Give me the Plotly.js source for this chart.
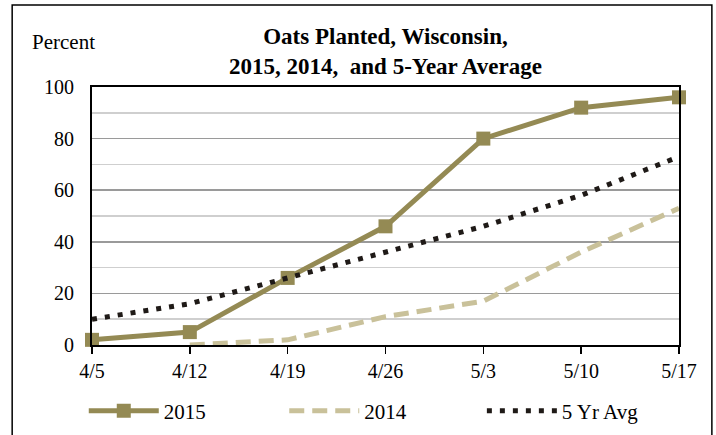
<!DOCTYPE html>
<html><head><meta charset="utf-8">
<script src="https://cdn.plot.ly/plotly-3.0.1.min.js"></script>
<style>body{margin:0;background:#fff}#c{width:716px;height:435px}</style>
</head><body><div id="c"></div>
<script>
const weeks = ['4/5','4/12','4/19','4/26','5/3','5/10','5/17'];
const y2015 = [2, 5, 26, 46, 80, 92, 96];
const y2014 = [null, 0, 2, 11, 17, 36, 53];
const yAvg = [10, 16, 26, 36, 46, 58, 73];
const xIdx = weeks.map((w,i)=>i);
const F = 'Liberation Serif, Times New Roman, serif';
const traces = [
 {x:xIdx, y:y2015, name:'2015', mode:'lines+markers', cliponaxis:false, legend:'legend',
  line:{color:'#948A54', width:5}, marker:{symbol:'square', size:14, color:'#948A54'}},
 {x:xIdx, y:y2014, name:'2014', mode:'lines', cliponaxis:false, legend:'legend2',
  line:{color:'#C9C19A', width:5, dash:'15px,8px'}},
 {x:xIdx, y:yAvg, name:'5 Yr Avg', mode:'lines', cliponaxis:false, legend:'legend3',
  line:{color:'#1f1a17', width:5, dash:'5px,8px'}}
];
const leg = (x) => ({orientation:'h', xref:'container', yref:'container', x:x, xanchor:'left', y:0.055, yanchor:'middle',
   font:{family:F, size:21}, itemwidth:70, bgcolor:'rgba(0,0,0,0)'});
const layout = {
 width:716, height:435, paper_bgcolor:'#fff', plot_bgcolor:'#fff',
 margin:{l:92, r:37, t:87, b:90},
 font:{family:F, size:20, color:'#000'},
 title:{text:'<b>Oats Planted, Wisconsin,<br>2015, 2014,  and 5-Year Average</b>', font:{family:F, size:23, color:'#000'},
   x:0.5, xanchor:'center', xref:'paper', yref:'container', y:0.898, yanchor:'middle'},
 xaxis:{range:[0,6], tickvals:xIdx, ticktext:weeks, showgrid:false, zeroline:false,
   showline:true, mirror:true, linecolor:'#000', linewidth:2,
   ticks:'outside', ticklen:7, tickcolor:'#000', tickwidth:1.5, tickfont:{family:F, size:20}},
 yaxis:{range:[0,100], dtick:20, showgrid:true, gridcolor:'#9a9a9a', gridwidth:1.5, zeroline:false,
   showline:true, mirror:true, linecolor:'#000', linewidth:2, ticks:'', ticklabelstandoff:12,
   minor:{dtick:10, showgrid:true, gridcolor:'#cfcfcf', gridwidth:1.5},
   tickfont:{family:F, size:20}},
 showlegend:true,
 legend:leg(0.117), legend2:leg(0.397), legend3:leg(0.673),
 annotations:[{text:'Percent', xref:'paper', yref:'paper', x:-0.049, y:1.174, xanchor:'center', yanchor:'middle',
   showarrow:false, font:{family:F, size:21}}],
 shapes:[{type:'rect', xref:'paper', yref:'paper', x0:-0.136, x1:1.056, y0:-0.5, y1:1.318,
   line:{color:'#000', width:1.5}, fillcolor:'rgba(0,0,0,0)', layer:'below'}]
};
Plotly.newPlot('c', traces, layout, {displayModeBar:false, staticPlot:true});
</script></body></html>
